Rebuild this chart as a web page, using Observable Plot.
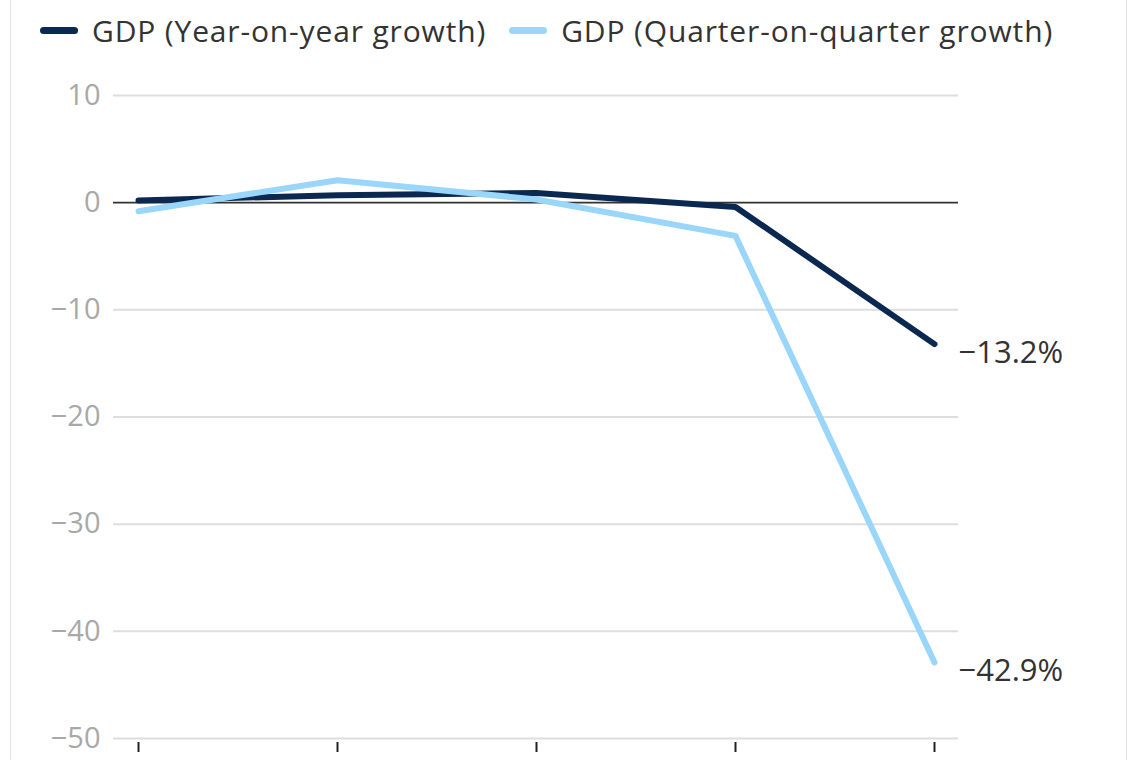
<!DOCTYPE html>
<html>
<head>
<meta charset="utf-8">
<script src="https://cdn.jsdelivr.net/npm/d3@7"></script>
<script src="https://cdn.jsdelivr.net/npm/@observablehq/plot@0.6"></script>
<style>
  html, body { margin: 0; padding: 0; background: #fff; }
  body { width: 1140px; height: 760px; overflow: hidden; position: relative; font-family: "Open Sans", Roboto, sans-serif; }
  .frame { position: absolute; left: 10px; top: -2px; width: 1117px; height: 770px; border: 1px solid #e3e3e3; box-sizing: border-box; }
  .legend { position: absolute; top: 10px; left: 40px; display: flex; align-items: center; font-size: 30px; letter-spacing: 0.85px; color: #333; }
  .legend .item { display: flex; align-items: center; margin-right: 23px; }
  .legend .sw { width: 38px; height: 7px; border-radius: 4px; margin-right: 14px; }
  #chart { position: absolute; top: 60px; left: 0; }
</style>
</head>
<body>
<div class="frame"></div>
<div class="legend" id="legend"></div>
<div id="chart"></div>
<script>
const quarters = ["Q2 2019", "Q3 2019", "Q4 2019", "Q1 2020", "Q2 2020"];
const yoyGrowth = [0.2, 0.7, 0.9, -0.4, -13.2];
const qoqGrowth = [-0.8, 2.1, 0.3, -3.1, -42.9];
const seriesNames = ["GDP (Year-on-year growth)", "GDP (Quarter-on-quarter growth)"];
const seriesColors = ["#0b2850", "#99d6fa"];
const yTicks = [10, 0, -10, -20, -30, -40, -50];

const rows = [];
quarters.forEach((q, i) => {
  rows.push({quarter: q, value: yoyGrowth[i], series: seriesNames[0]});
  rows.push({quarter: q, value: qoqGrowth[i], series: seriesNames[1]});
});
const lastRows = rows.filter(d => d.quarter === quarters[quarters.length - 1]);

const fmt = v => String(v).replace("-", "\u2212");

const legend = document.getElementById("legend");
seriesNames.forEach((n, i) => {
  const it = document.createElement("div");
  it.className = "item";
  const sw = document.createElement("span");
  sw.className = "sw";
  sw.style.background = seriesColors[i];
  const t = document.createElement("span");
  t.textContent = n;
  it.appendChild(sw); it.appendChild(t);
  legend.appendChild(it);
});

const chart = Plot.plot({
  width: 1140,
  height: 700,
  marginTop: 35,
  marginBottom: 22,
  marginLeft: 113,
  marginRight: 182,
  style: {fontFamily: "'Open Sans', Roboto, sans-serif", background: "transparent", overflow: "visible"},
  x: {type: "point", domain: quarters, padding: 0.12},
  y: {domain: [-50, 10]},
  color: {domain: seriesNames, range: seriesColors},
  marks: [
    Plot.ruleY(yTicks.filter(v => v !== 0), {stroke: "#dedede", strokeWidth: 2, strokeOpacity: 1}),
    Plot.ruleY([0], {stroke: "#333", strokeWidth: 1.6}),
    Plot.axisY({ticks: yTicks, tickSize: 0, tickPadding: 13, fontSize: 29, color: "#a8a8a8", tickFormat: fmt, label: null}),
    Plot.axisX({tickSize: 10, tickFormat: () => "", label: null, dy: 4, stroke: "#222", strokeWidth: 2}),
    Plot.line(rows, {x: "quarter", y: "value", stroke: "series", z: "series", strokeWidth: 6, strokeLinecap: "round", strokeLinejoin: "round"}),
    Plot.text(lastRows, {x: "quarter", y: "value", text: d => fmt(d.value) + "%", textAnchor: "start", dx: 24, dy: 9, fontSize: 31, fill: "#333"})
  ]
});
document.getElementById("chart").appendChild(chart);
</script>
</body>
</html>
